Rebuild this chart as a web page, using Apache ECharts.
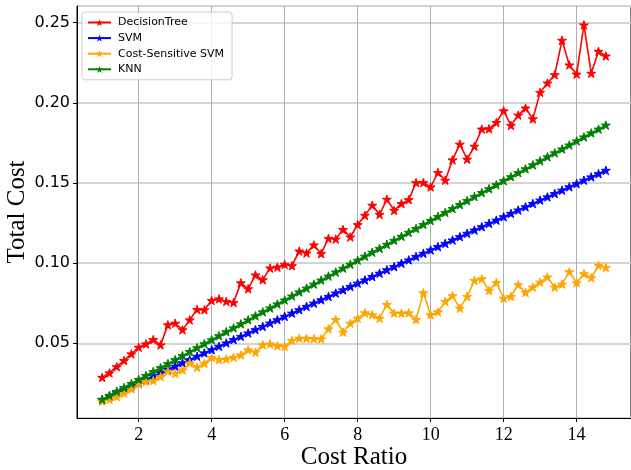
<!DOCTYPE html>
<html>
<head>
<meta charset="utf-8">
<script src="https://cdn.jsdelivr.net/npm/echarts@6/dist/echarts.min.js"></script>
<style>html,body{margin:0;padding:0;background:#fff}#c{width:631px;height:470px}</style>
</head>
<body>
<div id="c"></div>
<script>
const costRatio = [1.0,1.2,1.4,1.6,1.8,2.0,2.2,2.4,2.6,2.8,3.0,3.2,3.4,3.6,3.8,4.0,4.2,4.4,4.6,4.8,5.0,5.2,5.4,5.6,5.8,6.0,6.2,6.4,6.6,6.8,7.0,7.2,7.4,7.6,7.8,8.0,8.2,8.4,8.6,8.8,9.0,9.2,9.4,9.6,9.8,10.0,10.2,10.4,10.6,10.8,11.0,11.2,11.4,11.6,11.8,12.0,12.2,12.4,12.6,12.8,13.0,13.2,13.4,13.6,13.8,14.0,14.2,14.4,14.6,14.8];

const decisionTree = [0.0287,0.0315,0.0354,0.0392,0.0434,0.0475,0.0496,0.0523,0.0490,0.0615,0.0625,0.0584,0.0646,0.0711,0.0709,0.0767,0.0777,0.0761,0.0754,0.0877,0.0840,0.0926,
0.0896,0.0969,0.0975,0.0992,0.0984,0.1075,0.1063,0.1113,0.1059,0.1154,0.1150,0.1209,0.1163,0.1240,0.1298,0.1361,0.1304,0.1398,0.1329,0.1371,0.1396,0.1502,0.1502,
0.1475,0.1565,0.1517,0.1644,0.1742,0.1648,0.1729,0.1836,0.1838,0.1877,0.1950,0.1859,0.1923,0.1967,0.1900,0.2065,0.2123,0.2175,0.2390,0.2236,0.2179,0.2486,0.2184,0.2321,0.2292];

const svm = [0.0150,0.0170,0.0191,0.0212,0.0232,0.0253,0.0274,0.0295,0.0315,0.0336,0.0357,0.0378,0.0398,0.0419,0.0440,0.0460,0.0481,0.0502,0.0523,0.0543,0.0564,0.0585,0.0605,0.0626,0.0647,0.0668,0.0688,0.0709,0.0730,0.0750,0.0771,0.0792,0.0813,0.0833,0.0854,0.0875,0.0895,0.0916,0.0937,0.0958,0.0978,0.0999,0.1020,0.1041,0.1061,0.1082,0.1103,0.1123,0.1144,0.1165,0.1186,0.1206,0.1227,0.1248,0.1268,0.1289,0.1310,0.1331,0.1351,0.1372,0.1393,0.1413,0.1434,0.1455,0.1476,0.1496,0.1517,0.1538,0.1558,0.1579];

const costSensitiveSvm = [0.0138,0.0150,0.0167,0.0188,0.0215,0.0246,0.0261,0.0267,0.0292,0.0325,0.0312,0.0334,0.0377,0.0350,0.0375,0.0412,0.0398,0.0402,0.0412,0.0427,0.0459,0.0444,0.0490,0.0496,0.0484,0.0481,0.0517,0.0531,0.0531,0.0529,0.0527,0.0590,0.0648,
0.0569,0.0625,0.0656,0.0690,0.0678,0.0656,0.0742,0.0688,0.0688,0.0690,0.0648,0.0815,0.0678,0.0696,0.0761,0.0796,0.0719,0.0792,0.0892,0.0902,0.0829,0.0879,0.0781,0.0792,0.0865,0.0817,0.0850,0.0881,0.0913,0.0850,0.0869,0.0946,0.0877,0.0934,0.0909,0.0986,0.0973];

const knn = [0.0150,0.0175,0.0200,0.0224,0.0249,0.0274,0.0299,0.0324,0.0348,0.0373,0.0398,0.0423,0.0448,0.0472,0.0497,0.0522,0.0547,0.0572,0.0596,0.0621,0.0646,0.0671,0.0696,0.0720,0.0745,0.0770,0.0795,0.0820,0.0844,0.0869,0.0894,0.0919,0.0944,0.0968,0.0993,0.1018,0.1043,0.1068,0.1092,0.1117,0.1142,0.1167,0.1192,0.1216,0.1241,0.1266,0.1291,0.1316,0.1340,0.1365,0.1390,0.1415,0.1440,0.1464,0.1489,0.1514,0.1539,0.1564,0.1588,0.1613,0.1638,0.1663,0.1688,0.1712,0.1737,0.1762,0.1787,0.1812,0.1836,0.1861];

const seriesNames = ['DecisionTree','SVM','Cost-Sensitive SVM','KNN'];
const seriesColors = ['#ff0000','#0000ff','#ffa500','#008000'];
const seriesValues = [decisionTree, svm, costSensitiveSvm, knn];

const STAR = 'path://M50,0L61.23,34.55L97.55,34.55L68.17,55.9L79.39,90.45L50,69.1L20.61,90.45L31.83,55.9L2.45,34.55L38.77,34.55Z';

const chart = echarts.init(document.getElementById('c'), null, {renderer: 'canvas'});
chart.setOption({
  animation: false,
  backgroundColor: '#fff',
  grid: {left: 77, right: 0, top: 6, bottom: 52, show: true, borderColor: '#000', borderWidth: 1, containLabel: false, outerBoundsMode: 'none'},
  legend: {
    orient: 'vertical', left: 82, top: 12,
    data: seriesNames,
    itemWidth: 23, itemHeight: 9, itemGap: 4.6,
    itemStyle: {borderWidth: 0},
    padding: [5, 8, 5, 5],
    backgroundColor: 'rgba(255,255,255,0.8)',
    borderColor: '#cccccc', borderWidth: 1, borderRadius: 3,
    textStyle: {fontFamily: 'DejaVu Sans', fontSize: 11, color: '#000', padding: [0,0,0,2]}
  },
  xAxis: {
    type: 'value', min: 0.31, max: 15.49, splitNumber: 7, minInterval: 2, maxInterval: 2,
    name: 'Cost Ratio', nameLocation: 'middle', nameGap: 27, nameMoveOverlap: false,
    nameTextStyle: {fontFamily: 'Liberation Serif', fontSize: 25, color: '#000'},
    axisLine: {show: true, lineStyle: {color: '#000', width: 1}},
    axisTick: {show: true, length: 4, lineStyle: {color: '#000'}},
    axisLabel: {showMinLabel: false, showMaxLabel: false, fontFamily: 'Liberation Serif', fontSize: 18, color: '#000', margin: 8},
    splitLine: {show: true, lineStyle: {color: '#b0b0b0', width: 1}}
  },
  yAxis: {
    type: 'value', min: 0.0034, max: 0.2604, splitNumber: 5, minInterval: 0.05, maxInterval: 0.05,
    name: 'Total Cost', nameLocation: 'middle', nameGap: 47, nameMoveOverlap: false,
    nameTextStyle: {fontFamily: 'Liberation Serif', fontSize: 25, color: '#000'},
    axisLine: {show: true, lineStyle: {color: '#000', width: 1}},
    axisTick: {show: true, length: 4, lineStyle: {color: '#000'}},
    axisLabel: {showMinLabel: false, showMaxLabel: false, fontFamily: 'DejaVu Sans', fontSize: 16, color: '#000', margin: 7,
      formatter: v => v.toFixed(2)},
    splitLine: {show: true, lineStyle: {color: '#d3d3d3', width: 2}}
  },
  series: seriesNames.map((n, i) => ({
    name: n, type: 'line',
    data: costRatio.map((x, j) => [x, seriesValues[i][j]]),
    symbol: STAR, symbolSize: 9, symbolKeepAspect: true, showAllSymbol: true,
    itemStyle: {color: seriesColors[i], borderColor: seriesColors[i], borderWidth: 1},
    lineStyle: {color: seriesColors[i], width: 1.6},
    z: 2 + i
  }))
});
</script>
</body>
</html>
